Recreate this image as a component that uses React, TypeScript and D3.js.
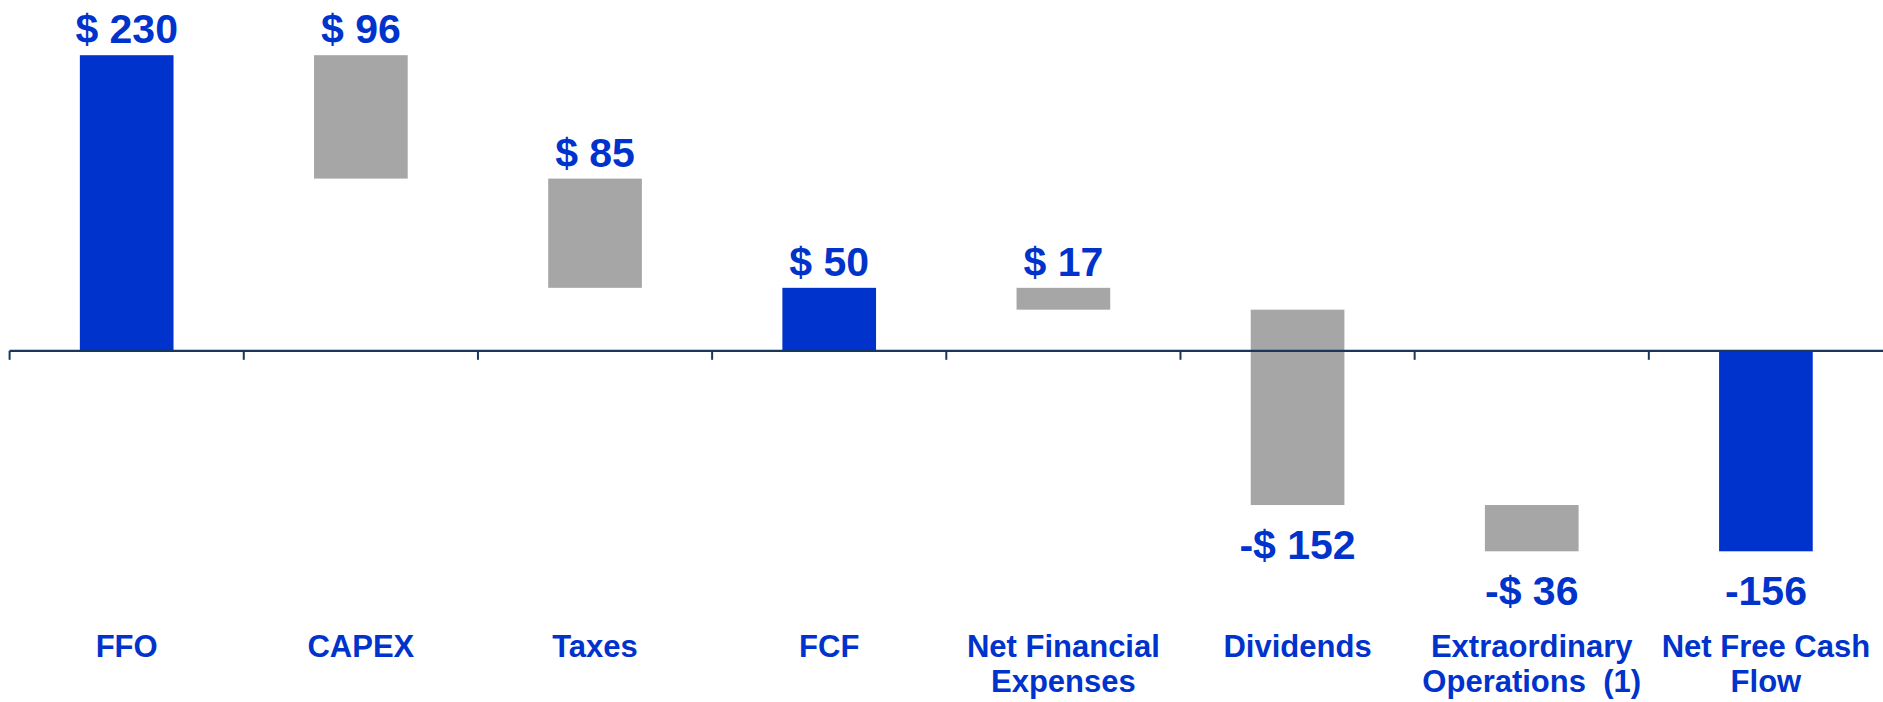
import React from "react";
import * as d3 from "d3";

const categories = [
  "FFO",
  "CAPEX",
  "Taxes",
  "FCF",
  "Net Financial\nExpenses",
  "Dividends",
  "Extraordinary\nOperations  (1)",
  "Net Free Cash\nFlow",
];
const kinds = ["start", "change", "change", "total", "change", "change", "change", "total"];
const amounts = [230, -96, -85, 49, -17, -152, -36, -156];
const valueLabels = ["$ 230", "$ 96", "$ 85", "$ 50", "$ 17", "-$ 152", "-$ 36", "-156"];

const W = 1883;
const H = 702;
const BLUE = "#0033cc";
const GRAY = "#a6a6a6";
const AXIS = "#17375e";
const FONT = "'Liberation Sans', Arial, Helvetica, sans-serif";

export default function App() {
  let running = 0;
  const bars = categories.map((c, i) => {
    let y0 = 0;
    let y1 = 0;
    if (kinds[i] === "start") {
      y0 = 0;
      y1 = amounts[i];
      running = amounts[i];
    } else if (kinds[i] === "change") {
      y0 = running;
      y1 = running + amounts[i];
      running = y1;
    } else {
      y0 = 0;
      y1 = running;
    }
    return { c, i, y0, y1, kind: kinds[i], label: valueLabels[i] };
  });

  const x = d3.scaleBand<string>().domain(categories).range([9.6, W]).paddingInner(0).paddingOuter(0);
  const allVals = bars.flatMap((b) => [b.y0, b.y1]);
  const [vMin, vMax] = d3.extent(allVals) as [number, number];
  const y = d3.scaleLinear().domain([vMin, vMax]).range([551.3, 55.2]);
  const bw = x.bandwidth();
  const barW = bw * 0.4;

  return (
    <svg width={W} height={H} style={{ position: "absolute", left: 0, top: 0, background: "#fff" }}>
      <rect x={0} y={0} width={W} height={H} fill="#fff" />
      {bars.map((b) => {
        const top = y(Math.max(b.y0, b.y1));
        const bot = y(Math.min(b.y0, b.y1));
        const cx = (x(b.c) as number) + bw / 2;
        return (
          <rect
            key={b.c}
            x={cx - barW / 2}
            y={top}
            width={barW}
            height={bot - top}
            fill={b.kind === "change" ? GRAY : BLUE}
          />
        );
      })}
      {/* axis */}
      <line x1={x.range()[0]} x2={W} y1={y(0)} y2={y(0)} stroke={AXIS} strokeWidth={2.2} />
      {categories.map((c) => (
        <line
          key={"t" + c}
          x1={x(c) as number}
          x2={x(c) as number}
          y1={y(0)}
          y2={y(0) + 9}
          stroke={AXIS}
          strokeWidth={2}
        />
      ))}
      {/* value labels */}
      {bars.map((b) => {
        const top = y(Math.max(b.y0, b.y1));
        const bot = y(Math.min(b.y0, b.y1));
        const cx = (x(b.c) as number) + bw / 2;
        const below = b.label.startsWith("-");
        return (
          <text
            key={"v" + b.c}
            x={cx}
            y={below ? bot + 54 : top - 12}
            textAnchor="middle"
            fill={BLUE}
            fontFamily={FONT}
            fontWeight="bold"
            fontSize={41}
          >
            {b.label}
          </text>
        );
      })}
      {/* category labels */}
      {categories.map((c) => {
        const cx = (x(c) as number) + bw / 2;
        const lines = c.split("\n");
        return (
          <text
            key={"c" + c}
            x={cx}
            y={657}
            textAnchor="middle"
            fill={BLUE}
            fontFamily={FONT}
            fontWeight="bold"
            fontSize={31}
            style={{ whiteSpace: "pre" }}
          >
            {lines.map((l, k) => (
              <tspan key={k} x={cx} dy={k === 0 ? 0 : 35}>
                {l}
              </tspan>
            ))}
          </text>
        );
      })}
    </svg>
  );
}
